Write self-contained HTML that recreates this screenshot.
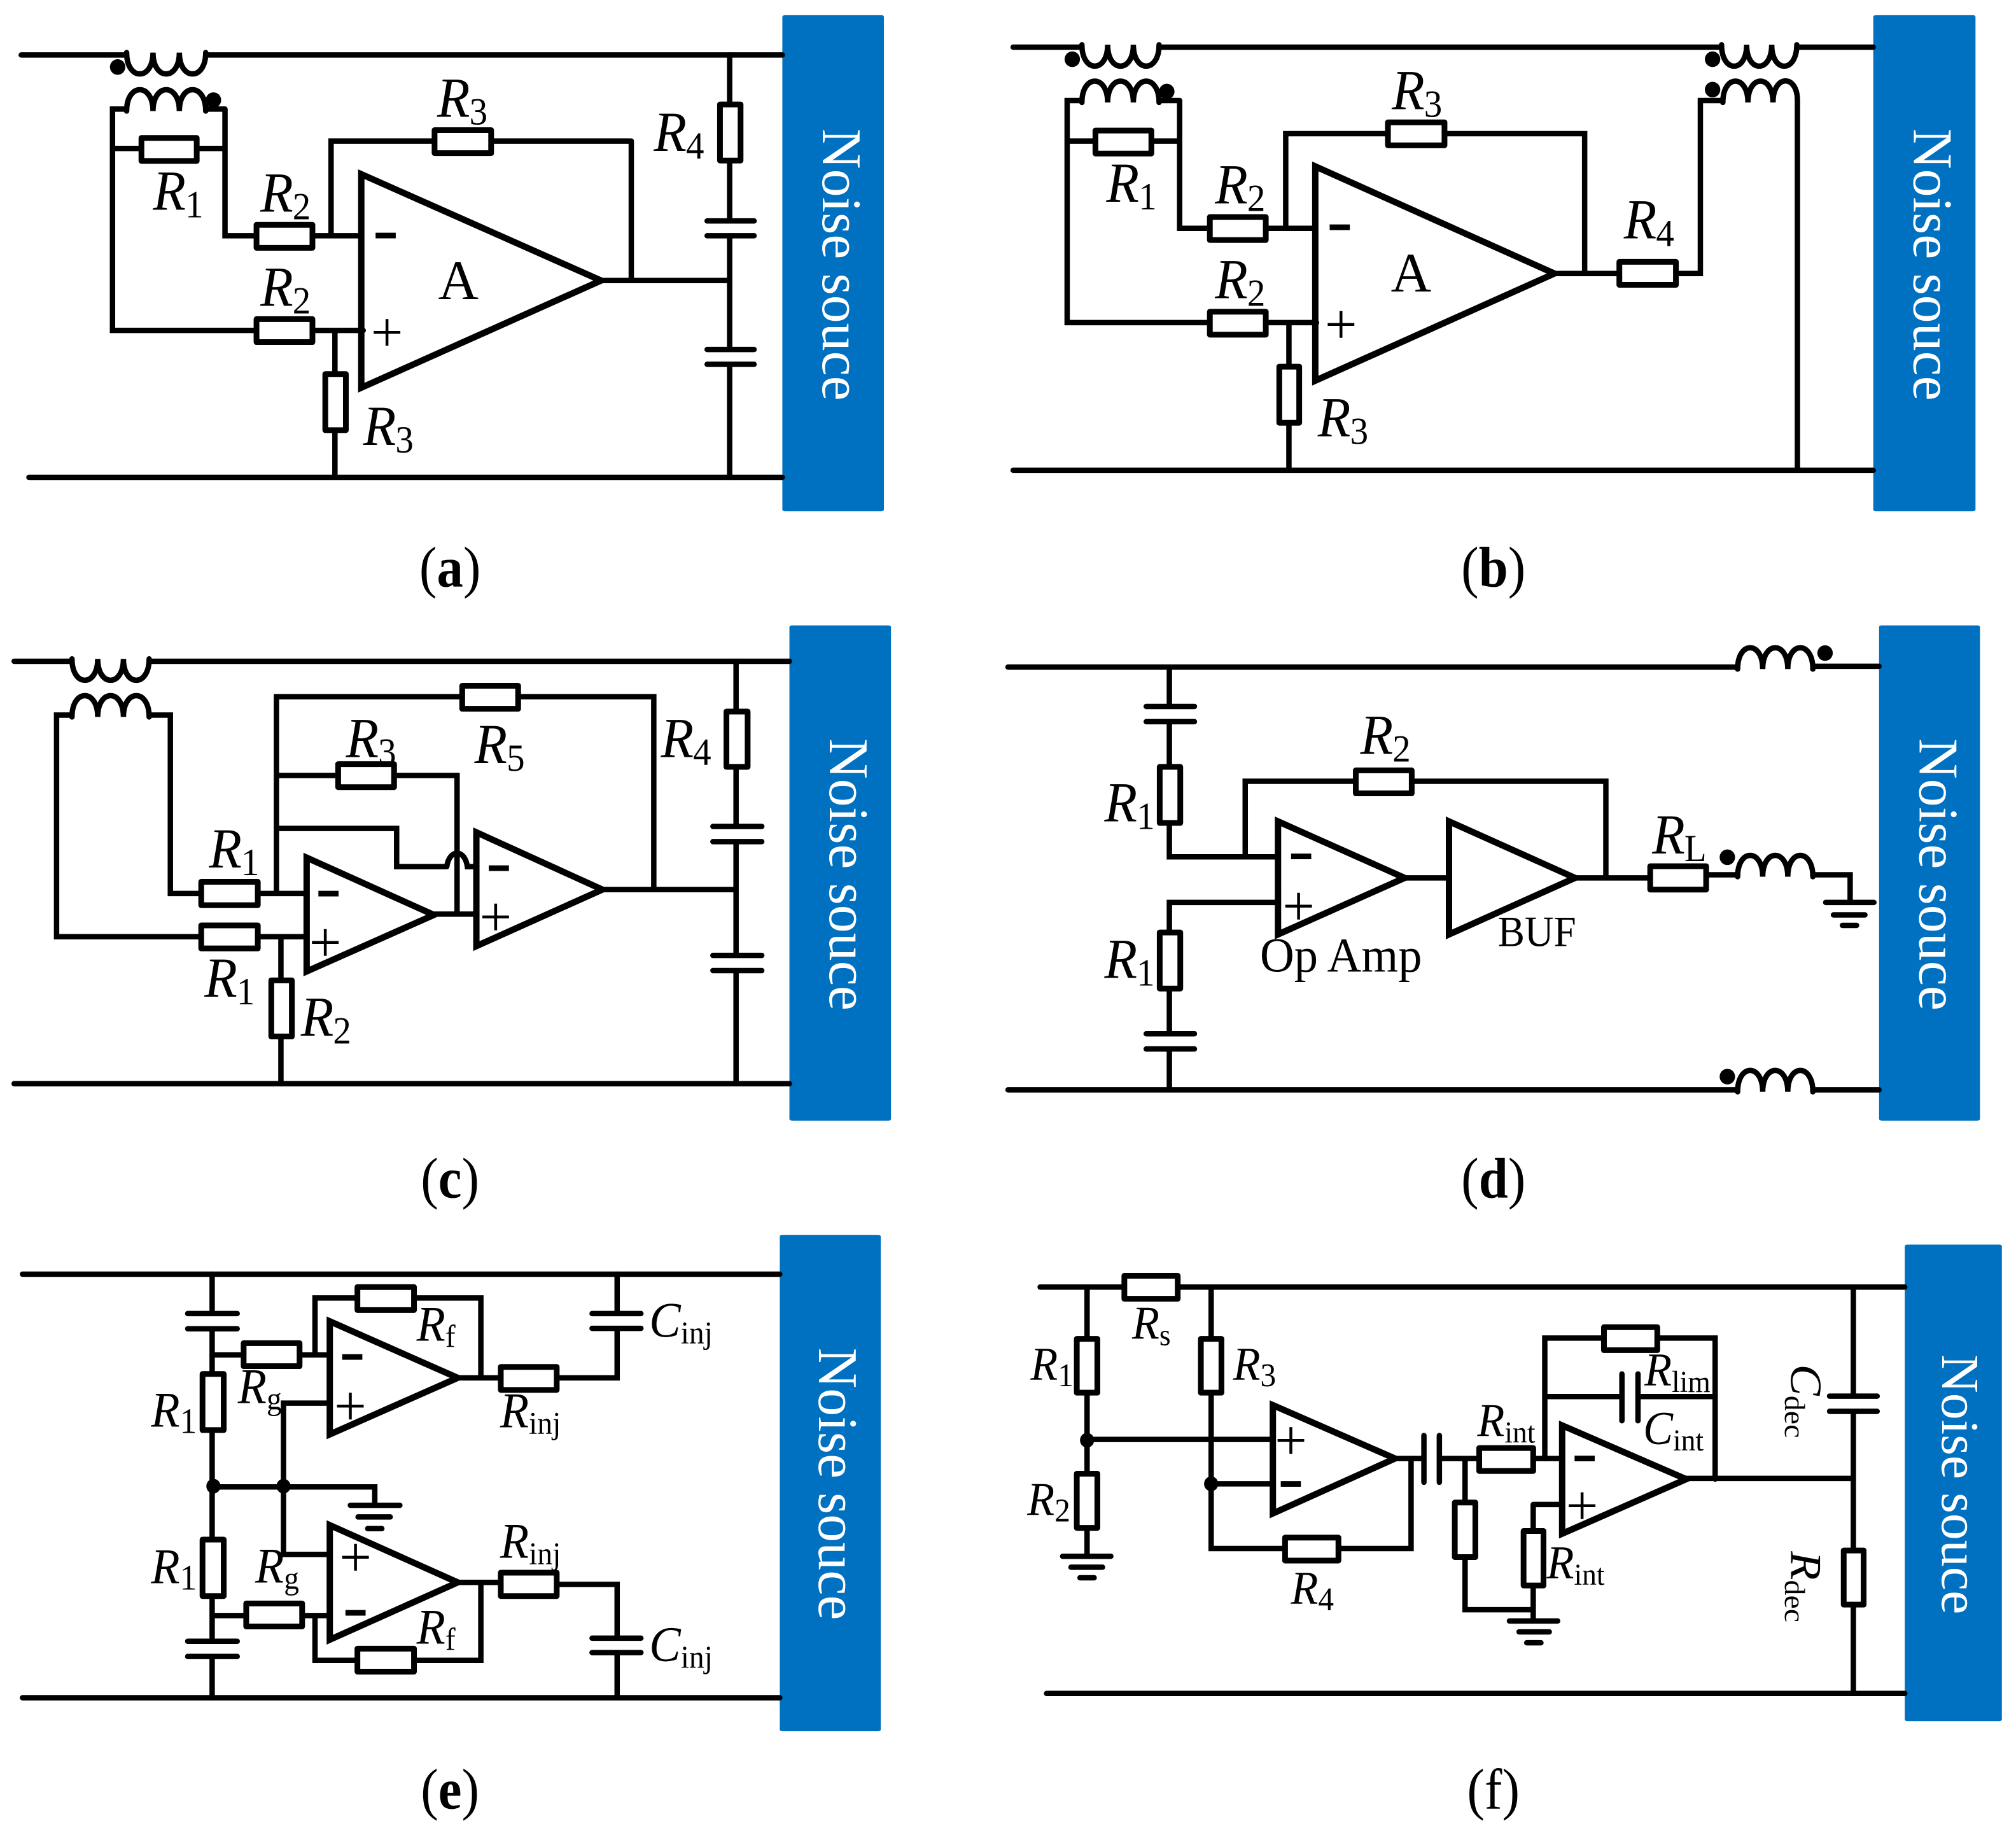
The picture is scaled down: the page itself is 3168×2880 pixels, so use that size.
<!DOCTYPE html>
<html><head><meta charset="utf-8"><title>Noise source active EMI filter circuits</title>
<style>
html,body{margin:0;padding:0;background:#fff}
svg{display:block}
.c *{vector-effect:non-scaling-stroke}
.c{fill:none;stroke:#000;stroke-width:8.5;stroke-linecap:round;stroke-linejoin:miter}
.c rect.r{fill:#fff;stroke-width:9;stroke-linejoin:round}
.c polygon{stroke-width:10}
.c ellipse{fill:#000;stroke:none}
.c rect.b{fill:#0070c0;stroke:none}
text{font-family:"Liberation Serif",serif;fill:#000;stroke:none}
.l{font-size:89px;font-style:italic}
.l tspan{font-size:60px;font-style:normal}
.m{font-size:78px;font-style:italic}
.m tspan{font-size:50px;font-style:normal}
.m tspan.d{font-size:56px}
.f{font-size:74px;font-style:italic}
.f tspan{font-size:48px;font-style:normal}
.f tspan.d{font-size:52px}
.p{font-size:90px;text-anchor:middle}
.n{font-size:105px;font-weight:bold;text-anchor:middle}
.a{font-size:88px;text-anchor:middle}
.w{font-size:88px;fill:#fff}
.cap{font-size:90px;text-anchor:middle}
.cap tspan{font-weight:bold}
</style></head><body>
<svg width="3168" height="2880" viewBox="0 0 3168 2880" xmlns="http://www.w3.org/2000/svg">
<rect width="3168" height="2880" fill="#fff"/>

<!-- (a) -->
<g class="c" transform="translate(0 0) scale(1.0102 .6122)">
<rect class="b" x="1217" y="39" width="158" height="1273" rx="4"/>
<path d="M33 141H197M320 141H1217M45 1225H1217"/>
<path d="M197 135c0 73 41 73 41 0c0 73 41 73 41 0c0 73 41 73 41 0"/>
<path d="M197 285c0 -73 41 -73 41 0c0 -73 41 -73 41 0c0 -73 41 -73 41 0"/>
<path d="M350 280H320M197 280H175V848H402M350 280V605H402M175 381H350M482 605H560M515 605V362H979M982 362V720M935 720H1135M482 848H565M521 848V1225"/>
<path d="M1135 141V567M1135 605V897M1135 935V1225M1100 567H1173M1100 605H1173M1100 897H1173M1100 935H1173"/>
<polygon points="562,447 562,995 935,720"/>
<rect class="r" x="220" y="354" width="86" height="59"/>
<rect class="r" x="399" y="577" width="87" height="59"/>
<rect class="r" x="676" y="334" width="88" height="59"/>
<rect class="r" x="399" y="819" width="87" height="59"/>
<rect class="r" x="506" y="960" width="32" height="144"/>
<rect class="r" x="1120" y="268" width="32" height="144"/>
<ellipse cx="183" cy="172" rx="12" ry="20"/>
<ellipse cx="332" cy="257" rx="12" ry="20"/>
<text class="n" transform="translate(600 604) scale(1.15 1.6335)" y="25">-</text>
<text class="p" transform="translate(602 853) scale(.99 1.6335)" y="30">+</text>
<text class="a" transform="translate(713 768) scale(.99 1.6335)">A</text>
<text class="l" transform="translate(680 300) scale(.94 1.6335)">R<tspan dx="-1" dy="12">3</tspan></text>
<text class="l" transform="translate(1017 387) scale(.94 1.6335)">R<tspan dx="-1" dy="12">4</tspan></text>
<text class="l" transform="translate(238 538) scale(.94 1.6335)">R<tspan dx="-1" dy="12">1</tspan></text>
<text class="l" transform="translate(405 543) scale(.94 1.6335)">R<tspan dx="-1" dy="12">2</tspan></text>
<text class="l" transform="translate(405 785) scale(.94 1.6335)">R<tspan dx="-1" dy="12">2</tspan></text>
<text class="l" transform="translate(565 1142) scale(.94 1.6335)">R<tspan dx="-1" dy="12">3</tspan></text>
<text class="w" transform="translate(1280 330) scale(.99 1.6335) rotate(90)">Noise souce</text>
<text class="cap" transform="translate(700 1505) scale(.91 1.6335)">(<tspan>a</tspan>)</text>
</g>

<!-- (b) -->
<g class="c" transform="translate(1584 0) scale(1.0102 .6122)">
<rect class="b" x="1346" y="39" width="159" height="1273" rx="4"/>
<path d="M8 121H115M235 121H1110M1228 121H1346M8 1207H1346"/>
<path d="M115 115c0 73 40 73 40 0c0 73 40 73 40 0c0 73 40 73 40 0"/>
<path d="M1110 115c0 73 39 73 39 0c0 73 39 73 39 0c0 73 39 73 39 0"/>
<path d="M115 263c0 -73 40 -73 40 0c0 -73 40 -73 40 0c0 -73 40 -73 40 0"/>
<path d="M1112 263c0 -73 39 -73 39 0c0 -73 39 -73 39 0c0 -73 38 -73 38 -5V1207"/>
<path d="M267 258H235M115 258H92V828H313M267 258V586H313M92 362H267M402 586H478M432 586V343H897V702M850 702H950M1040 702H1077V258H1112M402 828H480M437 828V1207"/>
<polygon points="478,427 478,977 850,702"/>
<rect class="r" x="136" y="335" width="87" height="59"/>
<rect class="r" x="314" y="557" width="87" height="59"/>
<rect class="r" x="591" y="314" width="88" height="59"/>
<rect class="r" x="951" y="672" width="88" height="59"/>
<rect class="r" x="314" y="800" width="87" height="59"/>
<rect class="r" x="422" y="941" width="31" height="144"/>
<ellipse cx="100" cy="152" rx="12" ry="20"/>
<ellipse cx="247" cy="235" rx="12" ry="20"/>
<ellipse cx="1096" cy="152" rx="12" ry="20"/>
<ellipse cx="1096" cy="230" rx="12" ry="20"/>
<text class="n" transform="translate(516 583) scale(1.15 1.6335)" y="25">-</text>
<text class="p" transform="translate(518 832) scale(.99 1.6335)" y="30">+</text>
<text class="a" transform="translate(627 748) scale(.99 1.6335)">A</text>
<text class="l" transform="translate(597 280) scale(.94 1.6335)">R<tspan dx="-1" dy="12">3</tspan></text>
<text class="l" transform="translate(153 518) scale(.94 1.6335)">R<tspan dx="-1" dy="12">1</tspan></text>
<text class="l" transform="translate(322 522) scale(.94 1.6335)">R<tspan dx="-1" dy="12">2</tspan></text>
<text class="l" transform="translate(958 612) scale(.94 1.6335)">R<tspan dx="-1" dy="12">4</tspan></text>
<text class="l" transform="translate(322 765) scale(.94 1.6335)">R<tspan dx="-1" dy="12">2</tspan></text>
<text class="l" transform="translate(482 1120) scale(.94 1.6335)">R<tspan dx="-1" dy="12">3</tspan></text>
<text class="w" transform="translate(1409 330) scale(.99 1.6335) rotate(90)">Noise souce</text>
<text class="cap" transform="translate(755 1505) scale(.91 1.6335)">(<tspan>b</tspan>)</text>
</g>

<!-- (c) -->
<g class="c" transform="translate(0 960) scale(1.0102 .6122)">
<rect class="b" x="1228" y="37" width="158" height="1271" rx="4"/>
<path d="M22 129H112M232 129H1228M22 1213H1228"/>
<path d="M112 123c0 73 40 73 40 0c0 73 40 73 40 0c0 73 40 73 40 0"/>
<path d="M112 272c0 -73 40 -73 40 0c0 -73 40 -73 40 0c0 -73 40 -73 40 0"/>
<path d="M112 267H88V836H312M232 267H265V725H312M402 725H475M402 836H475M437 836V1213M430 725V220H1017V715M430 422H711V778M430 558H617V656H695M695 656C699 610 723 610 727 656H740M675 778H740M937 715H1145"/>
<path d="M1145 129V553M1145 592V884M1145 923V1213M1109 553H1185M1109 592H1185M1109 884H1185M1109 923H1185"/>
<polygon points="477,633 477,925 675,780"/>
<polygon points="741,568 741,860 937,715"/>
<text class="l" transform="translate(538 375) scale(.94 1.6335)">R<tspan dx="-1" dy="12">3</tspan></text>
<rect class="r" x="313" y="695" width="88" height="60"/>
<rect class="r" x="313" y="807" width="88" height="59"/>
<rect class="r" x="422" y="948" width="32" height="144"/>
<rect class="r" x="719" y="192" width="87" height="59"/>
<rect class="r" x="526" y="393" width="87" height="59"/>
<rect class="r" x="1130" y="258" width="33" height="142"/>
<text class="n" transform="translate(511 725) scale(1.15 1.6335)" y="25">-</text>
<text class="p" transform="translate(506 850) scale(.99 1.6335)" y="30">+</text>
<text class="n" transform="translate(776 660) scale(1.15 1.6335)" y="25">-</text>
<text class="p" transform="translate(771 785) scale(.99 1.6335)" y="30">+</text>
<text class="l" transform="translate(738 390) scale(.94 1.6335)">R<tspan dx="-1" dy="12">5</tspan></text>
<text class="l" transform="translate(1028 375) scale(.94 1.6335)">R<tspan dx="-1" dy="12">4</tspan></text>
<text class="l" transform="translate(325 658) scale(.94 1.6335)">R<tspan dx="-1" dy="12">1</tspan></text>
<text class="l" transform="translate(318 990) scale(.94 1.6335)">R<tspan dx="-1" dy="12">1</tspan></text>
<text class="l" transform="translate(468 1090) scale(.94 1.6335)">R<tspan dx="-1" dy="12">2</tspan></text>
<text class="w" transform="translate(1291 327) scale(.99 1.6335) rotate(90)">Noise souce</text>
<text class="cap" transform="translate(700 1505) scale(.91 1.6335)">(<tspan>c</tspan>)</text>
</g>

<!-- (d) -->
<g class="c" transform="translate(1584 960) scale(1.0102 .6122)">
<rect class="b" x="1355" y="37" width="157" height="1271" rx="4"/>
<path d="M0 144H1135M1252 142H1355M0 1229H1135M1252 1229H1355"/>
<path d="M1135 149c0 -73 39 -73 39 0c0 -73 39 -73 39 0c0 -73 39 -73 39 0"/>
<path d="M1135 1234c0 -73 39 -73 39 0c0 -73 39 -73 39 0c0 -73 39 -73 39 0"/>
<path d="M1135 682c0 -73 39 -73 39 0c0 -73 39 -73 39 0c0 -73 39 -73 39 0"/>
<path d="M251 144V245M251 284V631H418M369 631V437H930V685M617 685H686M882 685H998M1086 677H1135M1252 677H1310V748M1272 748H1347M1284 780H1333M1298 807H1320"/>
<path d="M215 245H290M215 284H290M418 748H251V1085M251 1124V1229M215 1085H290M215 1124H290"/>
<polygon points="420,540 420,830 617,685"/>
<polygon points="686,540 686,830 882,685"/>
<rect class="r" x="236" y="400" width="32" height="144"/>
<rect class="r" x="236" y="825" width="32" height="144"/>
<rect class="r" x="541" y="409" width="87" height="59"/>
<rect class="r" x="999" y="655" width="87" height="60"/>
<ellipse cx="1271" cy="108" rx="12" ry="20"/>
<ellipse cx="1119" cy="632" rx="12" ry="20"/>
<ellipse cx="1119" cy="1195" rx="12" ry="20"/>
<text class="n" transform="translate(456 630) scale(1.15 1.6335)" y="25">-</text>
<text class="p" transform="translate(452 757) scale(.99 1.6335)" y="30">+</text>
<text class="l" transform="translate(548 367) scale(.94 1.6335)">R<tspan dx="-1" dy="12">2</tspan></text>
<text class="l" transform="translate(150 540) scale(.94 1.6335)">R<tspan dx="-1" dy="12">1</tspan></text>
<text class="l" transform="translate(150 942) scale(.94 1.6335)">R<tspan dx="-1" dy="12">1</tspan></text>
<text class="l" transform="translate(1002 622) scale(.94 1.6335)">R<tspan dx="-1" dy="12">L</tspan></text>
<text transform="translate(392 925) scale(.97 1.6335)" font-size="76">Op Amp</text>
<text transform="translate(762 860) scale(.92 1.6335)" font-size="68">BUF</text>
<text class="w" transform="translate(1418 327) scale(.99 1.6335) rotate(90)">Noise souce</text>
<text class="cap" transform="translate(755 1505) scale(.91 1.6335)">(<tspan>d</tspan>)</text>
</g>

<!-- (e) -->
<g class="c" transform="translate(0 1920) scale(1.0102 .6122)">
<rect class="b" x="1213" y="33" width="157" height="1274" rx="4"/>
<path d="M35 134H1213M35 1221H1213"/>
<path d="M330 134V235M330 274V1076M330 1115V1221M292 235H369M292 274H369M292 1076H369M292 1115H369"/>
<path d="M330 341H378M467 341H513M490 341V195H748V400M712 400H778M866 400H960V273M960 235V134M921 235H997M921 273H997"/>
<path d="M513 465H441V853H513M332 680H583V727M545 727H622M557 757H607M572 787H594"/>
<path d="M712 925H778M866 930H960V1068M960 1105V1221M921 1068H997M921 1105H997M330 1010H382M471 1010H513M490 1010V1125H748V925"/>
<polygon points="513,255 513,545 712,400"/>
<polygon points="513,778 513,1072 712,925"/>
<rect class="r" x="379" y="311" width="87" height="59"/>
<rect class="r" x="556" y="167" width="88" height="59"/>
<rect class="r" x="779" y="372" width="87" height="59"/>
<rect class="r" x="315" y="390" width="33" height="144"/>
<rect class="r" x="315" y="815" width="33" height="145"/>
<rect class="r" x="779" y="900" width="87" height="60"/>
<rect class="r" x="383" y="979" width="87" height="59"/>
<rect class="r" x="556" y="1095" width="88" height="59"/>
<ellipse cx="332" cy="678" rx="11" ry="19"/>
<ellipse cx="441" cy="678" rx="11" ry="19"/>
<text class="n" transform="translate(548 346) scale(1.15 1.6335)" y="25">-</text>
<text class="p" transform="translate(545 472) scale(.99 1.6335)" y="30">+</text>
<text class="p" transform="translate(553 860) scale(.99 1.6335)" y="30">+</text>
<text class="n" transform="translate(553 1003) scale(1.15 1.6335)" y="25">-</text>
<text class="m" transform="translate(648 305) scale(.94 1.6335)">R<tspan dy="10">f</tspan></text>
<text class="m" transform="translate(1010 295) scale(.94 1.6335)">C<tspan dy="10">inj</tspan></text>
<text class="m" transform="translate(370 465) scale(.94 1.6335)">R<tspan dy="10">g</tspan></text>
<text class="m" transform="translate(235 525) scale(.94 1.6335)">R<tspan class="d" dy="10">1</tspan></text>
<text class="m" transform="translate(778 527) scale(.94 1.6335)">R<tspan dy="10">inj</tspan></text>
<text class="m" transform="translate(235 927) scale(.94 1.6335)">R<tspan class="d" dy="10">1</tspan></text>
<text class="m" transform="translate(397 925) scale(.94 1.6335)">R<tspan dy="10">g</tspan></text>
<text class="m" transform="translate(778 862) scale(.94 1.6335)">R<tspan dy="10">inj</tspan></text>
<text class="m" transform="translate(648 1082) scale(.94 1.6335)">R<tspan dy="10">f</tspan></text>
<text class="m" transform="translate(1010 1127) scale(.94 1.6335)">C<tspan dy="10">inj</tspan></text>
<text class="w" transform="translate(1274 323) scale(.99 1.6335) rotate(90)">Noise souce</text>
<text class="cap" transform="translate(700 1505) scale(.91 1.6335)">(<tspan>e</tspan>)</text>
</g>

<!-- (f) -->
<g class="c" transform="translate(1584 1920) scale(1.0102 .6122)">
<rect class="b" x="1395" y="58" width="151" height="1223" rx="4"/>
<path d="M50 167H180M265 167H1395M60 1210H1395"/>
<path d="M123 167V858M85 858H160M98 886H147M112 913H134M316 167V838H627V607M123 558H412M316 672H412"/>
<path d="M602 607H647M647 548V668M671 548V668M671 607H862M711 607V995H817"/>
<path d="M835 607V298H1100V660M835 448H955M955 390V510M980 390V510M980 448H1100M1055 658H1315M817 725H862M817 725V1024M780 1024H855M795 1052H842M807 1080H829"/>
<path d="M1315 167V447M1278 447H1352M1278 486H1352M1315 486V1210"/>
<polygon points="412,470 412,748 602,607"/>
<polygon points="862,522 862,800 1055,660"/>
<rect class="r" x="181" y="138" width="83" height="59"/>
<rect class="r" x="107" y="300" width="32" height="138"/>
<rect class="r" x="300" y="300" width="32" height="138"/>
<rect class="r" x="107" y="646" width="32" height="139"/>
<rect class="r" x="431" y="810" width="83" height="59"/>
<rect class="r" x="733" y="580" width="84" height="59"/>
<rect class="r" x="695" y="720" width="32" height="140"/>
<rect class="r" x="927" y="270" width="83" height="59"/>
<rect class="r" x="802" y="793" width="31" height="140"/>
<rect class="r" x="1300" y="843" width="31" height="139"/>
<ellipse cx="123" cy="560" rx="11" ry="19"/>
<ellipse cx="316" cy="672" rx="11" ry="19"/>
<text class="p" transform="translate(440 560) scale(.99 1.6335)" y="30">+</text>
<text class="n" transform="translate(440 672) scale(1.15 1.6335)" y="25">-</text>
<text class="n" transform="translate(897 607) scale(1.15 1.6335)" y="25">-</text>
<text class="p" transform="translate(893 728) scale(.99 1.6335)" y="30">+</text>
<text class="f" transform="translate(193 300) scale(.94 1.6335)">R<tspan dy="10">s</tspan></text>
<text class="f" transform="translate(35 405) scale(.94 1.6335)">R<tspan class="d" dy="10">1</tspan></text>
<text class="f" transform="translate(350 405) scale(.94 1.6335)">R<tspan class="d" dy="10">3</tspan></text>
<text class="f" transform="translate(30 752) scale(.94 1.6335)">R<tspan class="d" dy="10">2</tspan></text>
<text class="f" transform="translate(440 980) scale(.94 1.6335)">R<tspan class="d" dy="10">4</tspan></text>
<text class="f" transform="translate(730 550) scale(.94 1.6335)">R<tspan dy="10">int</tspan></text>
<text class="f" transform="translate(990 420) scale(.94 1.6335)">R<tspan dy="10">lim</tspan></text>
<text class="f" transform="translate(988 570) scale(.94 1.6335)">C<tspan dy="10">int</tspan></text>
<text class="f" transform="translate(838 915) scale(.94 1.6335)">R<tspan dy="10">int</tspan></text>
<text class="f" transform="translate(1218 365) scale(.94 1.6335) rotate(90)">C<tspan dy="10">dec</tspan></text>
<text class="f" transform="translate(1218 845) scale(.94 1.6335) rotate(90)">R<tspan dy="10">dec</tspan></text>
<text class="w" style="font-size:84px" transform="translate(1453 340) scale(.99 1.6335) rotate(90)">Noise souce</text>
<text class="cap" transform="translate(755 1505) scale(.91 1.6335)">(f)</text>
</g>
</svg>
</body></html>
